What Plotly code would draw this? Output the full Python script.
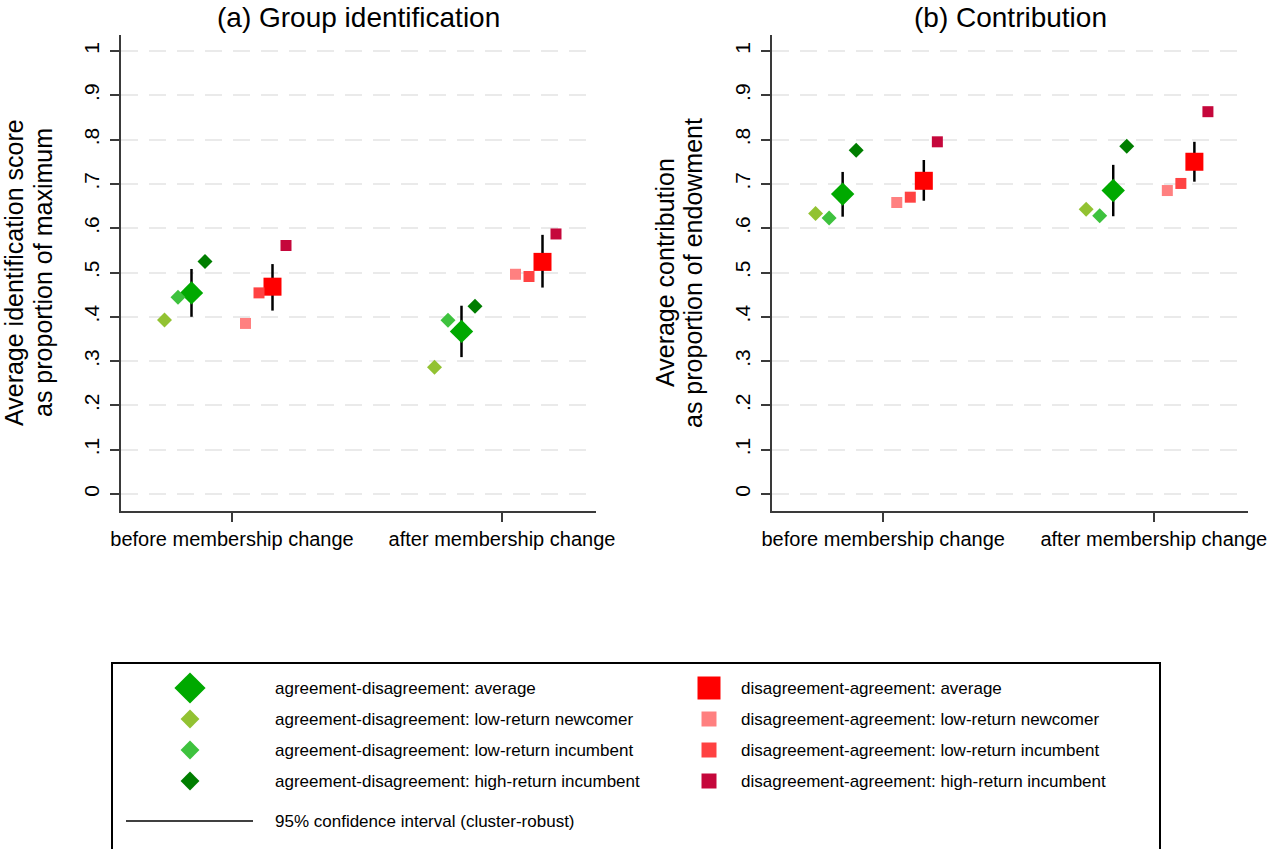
import plotly.graph_objects as go

W, H = 1271, 849

# ---------------- data ----------------
periods = ["before membership change", "after membership change"]
period_pos = [1, 2]
y_ticks = [0, .1, .2, .3, .4, .5, .6, .7, .8, .9, 1]
y_tick_labels = ["0", ".1", ".2", ".3", ".4", ".5", ".6", ".7", ".8", ".9", "1"]

labels = [
    "agreement-disagreement: average",
    "agreement-disagreement: low-return newcomer",
    "agreement-disagreement: low-return incumbent",
    "agreement-disagreement: high-return incumbent",
    "disagreement-agreement: average",
    "disagreement-agreement: low-return newcomer",
    "disagreement-agreement: low-return incumbent",
    "disagreement-agreement: high-return incumbent",
]
ci_label = "95% confidence interval (cluster-robust)"

# (a) group identification
ident_ad_avg = [0.454, 0.367]
ident_ad_avg_lo = [0.400, 0.309]
ident_ad_avg_hi = [0.508, 0.425]
ident_ad_new = [0.393, 0.286]
ident_ad_inc = [0.444, 0.392]
ident_ad_high = [0.525, 0.424]
ident_da_avg = [0.468, 0.524]
ident_da_avg_lo = [0.414, 0.466]
ident_da_avg_hi = [0.519, 0.585]
ident_da_new = [0.385, 0.496]
ident_da_inc = [0.454, 0.491]
ident_da_high = [0.561, 0.587]

# (b) contribution
contr_ad_avg = [0.677, 0.685]
contr_ad_avg_lo = [0.626, 0.627]
contr_ad_avg_hi = [0.727, 0.743]
contr_ad_new = [0.633, 0.643]
contr_ad_inc = [0.623, 0.628]
contr_ad_high = [0.776, 0.785]
contr_da_avg = [0.707, 0.750]
contr_da_avg_lo = [0.662, 0.705]
contr_da_avg_hi = [0.754, 0.795]
contr_da_new = [0.658, 0.685]
contr_da_inc = [0.670, 0.701]
contr_da_high = [0.795, 0.863]

# ---------------- style ----------------
FONT = "Liberation Sans, Arial, sans-serif"
colors = ["#00A900", "#92C232", "#3EC23E", "#007E00",
          "#FF0000", "#FF8080", "#FF4242", "#C5073B"]
symbols = ["diamond"] * 4 + ["square"] * 4
sizes = [18, 11.5, 11.5, 11.5, 18, 11, 11, 11]
legend_sizes = [24, 14.5, 14.5, 14.5, 23, 15, 15, 15]
offsets = [-0.15, -0.25, -0.20, -0.10, 0.15, 0.05, 0.10, 0.20]

panels = [
    dict(title="(a) Group identification",
         ytitle=["Average identification score", "as proportion of maximum"],
         series=[ident_ad_avg, ident_ad_new, ident_ad_inc, ident_ad_high,
                 ident_da_avg, ident_da_new, ident_da_inc, ident_da_high],
         ci=[(0, ident_ad_avg_lo, ident_ad_avg_hi), (4, ident_da_avg_lo, ident_da_avg_hi)],
         xdom=(121, 596), ytx=(14, 43)),
    dict(title="(b) Contribution",
         ytitle=["Average contribution", "as proportion of endowment"],
         series=[contr_ad_avg, contr_ad_new, contr_ad_inc, contr_ad_high,
                 contr_da_avg, contr_da_new, contr_da_inc, contr_da_high],
         ci=[(0, contr_ad_avg_lo, contr_ad_avg_hi), (4, contr_da_avg_lo, contr_da_avg_hi)],
         xdom=(772, 1248), ytx=(665, 693)),
]

fig = go.Figure()
annotations = []
layout = {}

ytop_px, ybot_px = 35, 511
y_range = [-17 / 443, 1 + 16 / 443]
x_range = [1 - 111 / 270, 2 + 94 / 270]

for i, p in enumerate(panels):
    sx = "" if i == 0 else str(i + 1)
    xa, ya = "x" + sx, "y" + sx
    # CI spikes
    cx, cy = [], []
    for idx, lo, hi in p["ci"]:
        for k, pos in enumerate(period_pos):
            cx += [pos + offsets[idx], pos + offsets[idx], None]
            cy += [lo[k], hi[k], None]
    fig.add_trace(go.Scatter(x=cx, y=cy, mode="lines", xaxis=xa, yaxis=ya,
                             line=dict(color="black", width=2.5),
                             showlegend=False, hoverinfo="skip"))
    for j, vals in enumerate(p["series"]):
        fig.add_trace(go.Scatter(
            x=[pos + offsets[j] for pos in period_pos], y=vals, mode="markers",
            xaxis=xa, yaxis=ya, name=labels[j], showlegend=False,
            marker=dict(symbol=symbols[j], color=colors[j], size=sizes[j],
                        line=dict(width=0))))
    layout["xaxis" + sx] = dict(
        domain=[p["xdom"][0] / W, p["xdom"][1] / W], range=x_range,
        anchor=ya, tickvals=period_pos, ticktext=periods, automargin=False,
        showgrid=False, zeroline=False, showline=True, linecolor="#3a3a3a",
        linewidth=1.5, ticks="outside", ticklen=9, tickwidth=1.5,
        tickcolor="#3a3a3a", tickfont=dict(family=FONT, size=20, color="black"),
        fixedrange=True)
    layout["yaxis" + sx] = dict(
        domain=[1 - ybot_px / H, 1 - ytop_px / H], range=y_range,
        anchor=xa, tickvals=y_ticks, ticktext=y_tick_labels, tickangle=-90,
        automargin=False, ticklabelstandoff=3,
        showgrid=True, gridcolor="#EAEAEA", gridwidth=2, griddash="17px,11px",
        zeroline=False, showline=True, linecolor="#3a3a3a", linewidth=1.5,
        ticks="outside", ticklen=9, tickwidth=1.5, tickcolor="#3a3a3a",
        tickfont=dict(family=FONT, size=21, color="black"), fixedrange=True)
    # panel title
    annotations.append(dict(text=p["title"], xref="paper", yref="paper",
                            x=(p["xdom"][0] + p["xdom"][1]) / 2 / W, y=1 - 17 / H,
                            xanchor="center", yanchor="middle", showarrow=False,
                            font=dict(family=FONT, size=28, color="black")))
    # y axis title (two lines)
    for line, xpx in zip(p["ytitle"], p["ytx"]):
        annotations.append(dict(text=line, xref="paper", yref="paper",
                                x=xpx / W, y=1 - 273 / H, textangle=-90,
                                xanchor="center", yanchor="middle", showarrow=False,
                                font=dict(family=FONT, size=25, color="black")))

# ---------------- legend (drawn in a hidden pixel-scaled axis) ----------------
leg_top = 637
layout["xaxis3"] = dict(domain=[0, 1], range=[0, W], visible=False,
                        fixedrange=True, automargin=False)
layout["yaxis3"] = dict(domain=[0, (H - leg_top) / H], range=[H, leg_top],
                        visible=False, fixedrange=True, anchor="x3", automargin=False)
row_y = [688, 719, 750, 781]
ci_row_y = 821
col_marker_x = [190, 709]
col_text_x = [273, 739]
for j in range(8):
    col, row = j // 4, j % 4
    fig.add_trace(go.Scatter(x=[col_marker_x[col]], y=[row_y[row]], mode="markers",
                             xaxis="x3", yaxis="y3", showlegend=False, hoverinfo="skip",
                             marker=dict(symbol=symbols[j], color=colors[j],
                                         size=legend_sizes[j], line=dict(width=0))))
    annotations.append(dict(text=labels[j], xref="x3", yref="y3",
                            x=col_text_x[col], y=row_y[row], xanchor="left",
                            yanchor="middle", showarrow=False,
                            font=dict(family=FONT, size=17, color="black")))
fig.add_trace(go.Scatter(x=[126, 253], y=[ci_row_y, ci_row_y], mode="lines", xaxis="x3",
                         yaxis="y3", showlegend=False, hoverinfo="skip",
                         line=dict(color="black", width=1.5)))
annotations.append(dict(text=ci_label, xref="x3", yref="y3", x=col_text_x[0], y=ci_row_y,
                        xanchor="left", yanchor="middle", showarrow=False,
                        font=dict(family=FONT, size=17, color="black")))

shapes = [dict(type="rect", xref="paper", yref="paper",
               x0=112 / W, x1=1160 / W, y0=-0.1, y1=1 - 663 / H,
               line=dict(color="black", width=2), fillcolor="rgba(0,0,0,0)")]

fig.update_layout(width=W, height=H, margin=dict(l=0, r=0, t=0, b=0, autoexpand=False),
                  paper_bgcolor="white", plot_bgcolor="white",
                  showlegend=False, annotations=annotations, shapes=shapes,
                  font=dict(family=FONT, color="black"), **layout)

fig.write_html("out.html")
